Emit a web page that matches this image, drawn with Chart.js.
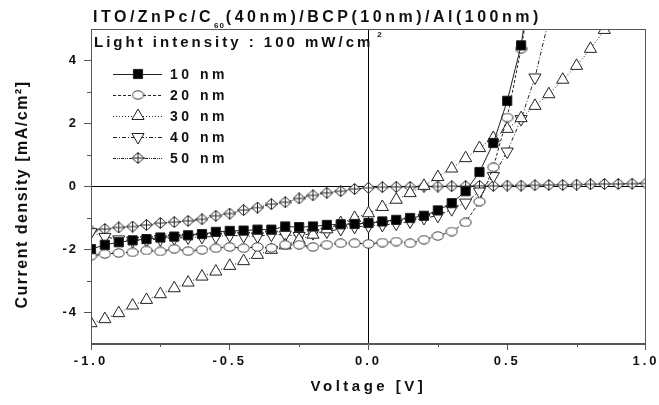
<!DOCTYPE html>
<html><head><meta charset="utf-8">
<script src="https://cdn.jsdelivr.net/npm/chart.js@4/dist/chart.umd.min.js"></script>
<style>html,body{margin:0;padding:0;background:#fff;}#wrap{width:659px;height:405px;}</style>
</head><body><div id="wrap"><canvas id="c" width="659" height="405"></canvas></div>
<script>
// ---------- data ----------
const voltage = [-1.00,-0.95,-0.90,-0.85,-0.80,-0.75,-0.70,-0.65,-0.60,-0.55,-0.50,-0.45,-0.40,-0.35,-0.30,-0.25,-0.20,-0.15,-0.10,-0.05,0.00,0.05,0.10,0.15,0.20,0.25,0.30,0.35,0.40,0.45,0.50,0.55,0.60,0.65,0.70,0.75,0.80,0.85,0.90,0.95,1.00];
const j10nm = [-1.99,-1.85,-1.77,-1.71,-1.67,-1.62,-1.59,-1.55,-1.51,-1.44,-1.41,-1.40,-1.37,-1.37,-1.27,-1.29,-1.27,-1.22,-1.20,-1.19,-1.16,-1.11,-1.06,-1.00,-0.93,-0.76,-0.53,-0.15,0.46,1.38,2.72,4.48,7.5,null,null,null,null,null,null,null,null];
const j20nm = [-2.20,-2.14,-2.11,-2.09,-2.03,-2.06,-1.98,-2.05,-2.01,-1.96,-1.92,-1.96,-1.92,-1.95,-1.85,-1.85,-1.92,-1.85,-1.80,-1.80,-1.82,-1.78,-1.75,-1.80,-1.69,-1.57,-1.43,-1.14,-0.48,0.61,2.19,4.37,7.0,null,null,null,null,null,null,null,null];
const j30nm = [-4.34,-4.21,-4.02,-3.78,-3.60,-3.42,-3.23,-3.05,-2.86,-2.70,-2.52,-2.37,-2.17,-2.01,-1.87,-1.69,-1.53,-1.36,-1.16,-1.00,-0.85,-0.65,-0.42,-0.21,0.02,0.30,0.57,0.90,1.22,1.54,1.83,2.17,2.56,2.93,3.39,3.83,4.37,4.97,5.6,null,null];
const j40nm = [-1.45,-1.60,-1.68,-1.72,-1.70,-1.67,-1.64,-1.62,-1.60,-1.59,-1.55,-1.57,-1.58,-1.53,-1.53,-1.57,-1.48,-1.43,-1.35,-1.28,-1.25,-1.22,-1.18,-1.11,-1.00,-0.93,-0.72,-0.51,-0.16,0.33,1.11,2.14,3.46,5.3,null,null,null,null,null,null,null];
const j50nm = [-1.40,-1.35,-1.30,-1.27,-1.22,-1.16,-1.13,-1.09,-1.04,-0.93,-0.86,-0.75,-0.67,-0.56,-0.50,-0.38,-0.28,-0.20,-0.15,-0.08,-0.04,-0.02,-0.01,-0.01,0.00,0.00,0.01,0.01,0.02,0.02,0.03,0.03,0.04,0.05,0.05,0.06,0.07,0.08,0.08,0.09,0.10];
const seriesLabels = ['10 nm','20 nm','30 nm','40 nm','50 nm'];
const seriesValues = [j10nm, j20nm, j30nm, j40nm, j50nm];
const titleMain = 'ITO/ZnPc/C';
const titleSub = '60';
const titleRest = '(40nm)/BCP(10nm)/Al(100nm)';
const noteText = 'Light intensity : 100 mW/cm';
const noteSup = '2';
const xTitle = 'Voltage [V]';
const yTitle = 'Current density [mA/cm\u00B2]';

// ---------- styles ----------
const FONT = "'Liberation Sans', Arial, Helvetica, sans-serif";
const INK = '#111';
const LINE = '#222';

function makeEllipse(){
  const c=document.createElement('canvas'); c.width=13; c.height=10;
  const g=c.getContext('2d'); g.fillStyle='#fff'; g.strokeStyle='#333'; g.lineWidth=1;
  g.beginPath(); g.ellipse(6.5,5,5.6,4.2,0,0,Math.PI*2); g.fill(); g.stroke(); return c;
}
function makeDiamondCross(){
  const c=document.createElement('canvas'); c.width=13; c.height=12;
  const g=c.getContext('2d'); g.fillStyle='#fff'; g.strokeStyle='#222'; g.lineWidth=1;
  g.beginPath(); g.moveTo(6.5,0.5); g.lineTo(12.5,6); g.lineTo(6.5,11.5); g.lineTo(0.5,6); g.closePath();
  g.fill(); g.stroke();
  g.beginPath(); g.moveTo(6.5,0.5); g.lineTo(6.5,11.5); g.moveTo(0.5,6); g.lineTo(12.5,6); g.stroke();
  return c;
}
const ellipseImg = makeEllipse();
const diamondImg = makeDiamondCross();

const styles = [
  {pointStyle:'rect', radius:6.5, rotation:0, bg:'#000', dash:[]},
  {pointStyle:ellipseImg, radius:5, rotation:0, bg:'#fff', dash:[3,2]},
  {pointStyle:'triangle', radius:7, rotation:0, bg:'#fff', dash:[1,2]},
  {pointStyle:'triangle', radius:7, rotation:180, bg:'#fff', dash:[4,2,1,2]},
  {pointStyle:diamondImg, radius:6, rotation:0, bg:'#fff', dash:[3,1,1,1,1,1]}
];

const datasets = seriesValues.map((arr, k) => ({
  label: seriesLabels[k],
  data: voltage.map((v, i) => ({x: v, y: arr[i]})),
  borderColor: LINE, borderWidth: 1, borderDash: styles[k].dash,
  pointStyle: styles[k].pointStyle, pointRadius: styles[k].radius,
  pointRotation: styles[k].rotation, pointBackgroundColor: styles[k].bg,
  pointBorderColor: LINE, pointBorderWidth: 1, tension: 0, fill: false
}));

function isMajorX(v){ return Math.abs(v*2 - Math.round(v*2)) < 1e-6; }
function isMajorY(v){ return Math.abs(v/2 - Math.round(v/2)) < 1e-6; }

function spaced(ctx, fn, sp, dy){
  return function(){ ctx.save(); ctx.letterSpacing = sp; if (dy) ctx.translate(0, dy); const r = fn.apply(this, arguments); ctx.restore(); return r; };
}

function drawText(ctx, txt, x, y, font, sp){
  ctx.save(); ctx.font = font; ctx.letterSpacing = sp; ctx.fillStyle = INK;
  ctx.textBaseline = 'alphabetic'; ctx.textAlign = 'left';
  ctx.fillText(txt, x, y); const w = ctx.measureText(txt).width; ctx.restore(); return w;
}

function drawMarker(ctx, st, x, y){
  ctx.save(); ctx.strokeStyle = LINE; ctx.fillStyle = st.bg; ctx.lineWidth = 1; ctx.setLineDash([]);
  const r = st.radius;
  if (st.pointStyle === 'rect'){
    const s = Math.SQRT1_2 * r; ctx.beginPath(); ctx.rect(x-s, y-s, 2*s, 2*s); ctx.fill(); ctx.stroke();
  } else if (st.pointStyle === 'triangle'){
    let a = st.rotation * Math.PI/180; ctx.beginPath();
    for (let i=0;i<3;i++){ const px = x + Math.sin(a)*r, py = y - Math.cos(a)*r; if(i===0) ctx.moveTo(px,py); else ctx.lineTo(px,py); a += 2*Math.PI/3; }
    ctx.closePath(); ctx.fill(); ctx.stroke();
  } else {
    const img = st.pointStyle; ctx.drawImage(img, x - img.width/2, y - img.height/2);
  }
  ctx.restore();
}

const decor = {
  id: 'decor',
  beforeDraw(chart){
    const ctx = chart.ctx;
    const sx = chart.scales.x, sy = chart.scales.y;
    if (!sx._patched){ sx.drawLabels = spaced(ctx, sx.drawLabels, '3px', 0); sx.drawTitle = spaced(ctx, sx.drawTitle, '3.5px', 0); sx._patched = true; }
    if (!sy._patched){ sy.drawLabels = spaced(ctx, sy.drawLabels, '2px', 0); sy.drawTitle = spaced(ctx, sy.drawTitle, '1.5px', 8); sy._patched = true; }
  },
  afterDatasetsDraw(chart){
    const ctx = chart.ctx, a = chart.chartArea;
    const sx = chart.scales.x, sy = chart.scales.y;
    ctx.save();
    ctx.strokeStyle = '#555'; ctx.lineWidth = 1;
    ctx.strokeRect(Math.round(a.left)+0.5, Math.round(a.top)+0.5, Math.round(a.right-a.left)-1, Math.round(a.bottom-a.top)-1);
    ctx.beginPath();
    sx.ticks.forEach(t => { if (!isMajorX(t.value)) { const p = Math.round(sx.getPixelForValue(t.value))+0.5; ctx.moveTo(p, a.bottom); ctx.lineTo(p, a.bottom+3); } });
    sy.ticks.forEach(t => { if (!isMajorY(t.value) && Math.abs(t.value) < 5) { const p = Math.round(sy.getPixelForValue(t.value))+0.5; ctx.moveTo(a.left, p); ctx.lineTo(a.left-4, p); } });
    ctx.stroke();
    ctx.restore();
  },
  afterDraw(chart){
    const ctx = chart.ctx;
    let x = 93;
    x += drawText(ctx, titleMain, x, 22, 'bold 16px ' + FONT, '3.5px');
    x += drawText(ctx, titleSub, x, 28, 'bold 8px ' + FONT, '1px');
    drawText(ctx, titleRest, x + 1, 22, 'bold 16px ' + FONT, '3.5px');
    const w = drawText(ctx, noteText, 94, 47, 'bold 15px ' + FONT, '3px');
    drawText(ctx, noteSup, 94 + w + 4, 37, 'bold 8px ' + FONT, '0px');
    for (let i = 0; i < seriesLabels.length; i++){
      const y = 74 + i*21, st = styles[i];
      ctx.save(); ctx.strokeStyle = LINE; ctx.lineWidth = 1; ctx.setLineDash(st.dash);
      ctx.beginPath(); ctx.moveTo(113, y+0.5); ctx.lineTo(162, y+0.5); ctx.stroke(); ctx.restore();
      drawMarker(ctx, st, 138, y);
      drawText(ctx, seriesLabels[i], 170, y + 5, 'bold 14px ' + FONT, '3.5px');
    }
  }
};

Chart.defaults.font.family = FONT;
new Chart(document.getElementById('c'), {
  type: 'line',
  data: { datasets },
  options: {
    responsive: false, animation: false, devicePixelRatio: 1,
    layout: { padding: { left: 0, top: 29, right: 12, bottom: 0 } },
    plugins: { legend: { display: false }, tooltip: { enabled: false }, title: { display: false } },
    scales: {
      x: {
        type: 'linear', min: -1, max: 1,
        afterFit(s){ s.height = 61; },
        ticks: { stepSize: 0.25, autoSkip: false, maxRotation: 0, padding: 4, color: INK,
          font: { size: 13, weight: 'bold' },
          callback: v => isMajorX(v) ? (Math.abs(v) < 1e-9 ? '0.0' : v.toFixed(1)) : '' },
        grid: { drawOnChartArea: true, tickLength: 6, lineWidth: 1,
          color: c => (c.tick && Math.abs(c.tick.value) < 1e-9) ? '#000' : 'rgba(0,0,0,0)',
          tickColor: c => (c.tick && isMajorX(c.tick.value)) ? '#555' : 'rgba(0,0,0,0)' },
        border: { display: true, color: '#555' },
        title: { display: true, text: xTitle, color: INK, font: { size: 15, weight: 'bold' }, padding: { top: 0, bottom: 9 } }
      },
      y: {
        type: 'linear', min: -5, max: 5,
        afterFit(s){ s.width = 91; },
        ticks: { stepSize: 1, autoSkip: false, padding: 6, color: INK,
          font: { size: 13, weight: 'bold' },
          callback: v => (isMajorY(v) && Math.abs(v) < 5) ? String(Math.round(v)) : '' },
        grid: { drawOnChartArea: true, tickLength: 7, lineWidth: 1,
          color: c => (c.tick && Math.abs(c.tick.value) < 1e-9) ? '#000' : 'rgba(0,0,0,0)',
          tickColor: c => (c.tick && isMajorY(c.tick.value) && Math.abs(c.tick.value) < 5) ? '#555' : 'rgba(0,0,0,0)' },
        border: { display: true, color: '#555' },
        title: { display: true, text: yTitle, color: INK, font: { size: 16, weight: 'bold' }, padding: { top: 13, bottom: 0 } }
      }
    }
  },
  plugins: [decor]
});
</script></body></html>
